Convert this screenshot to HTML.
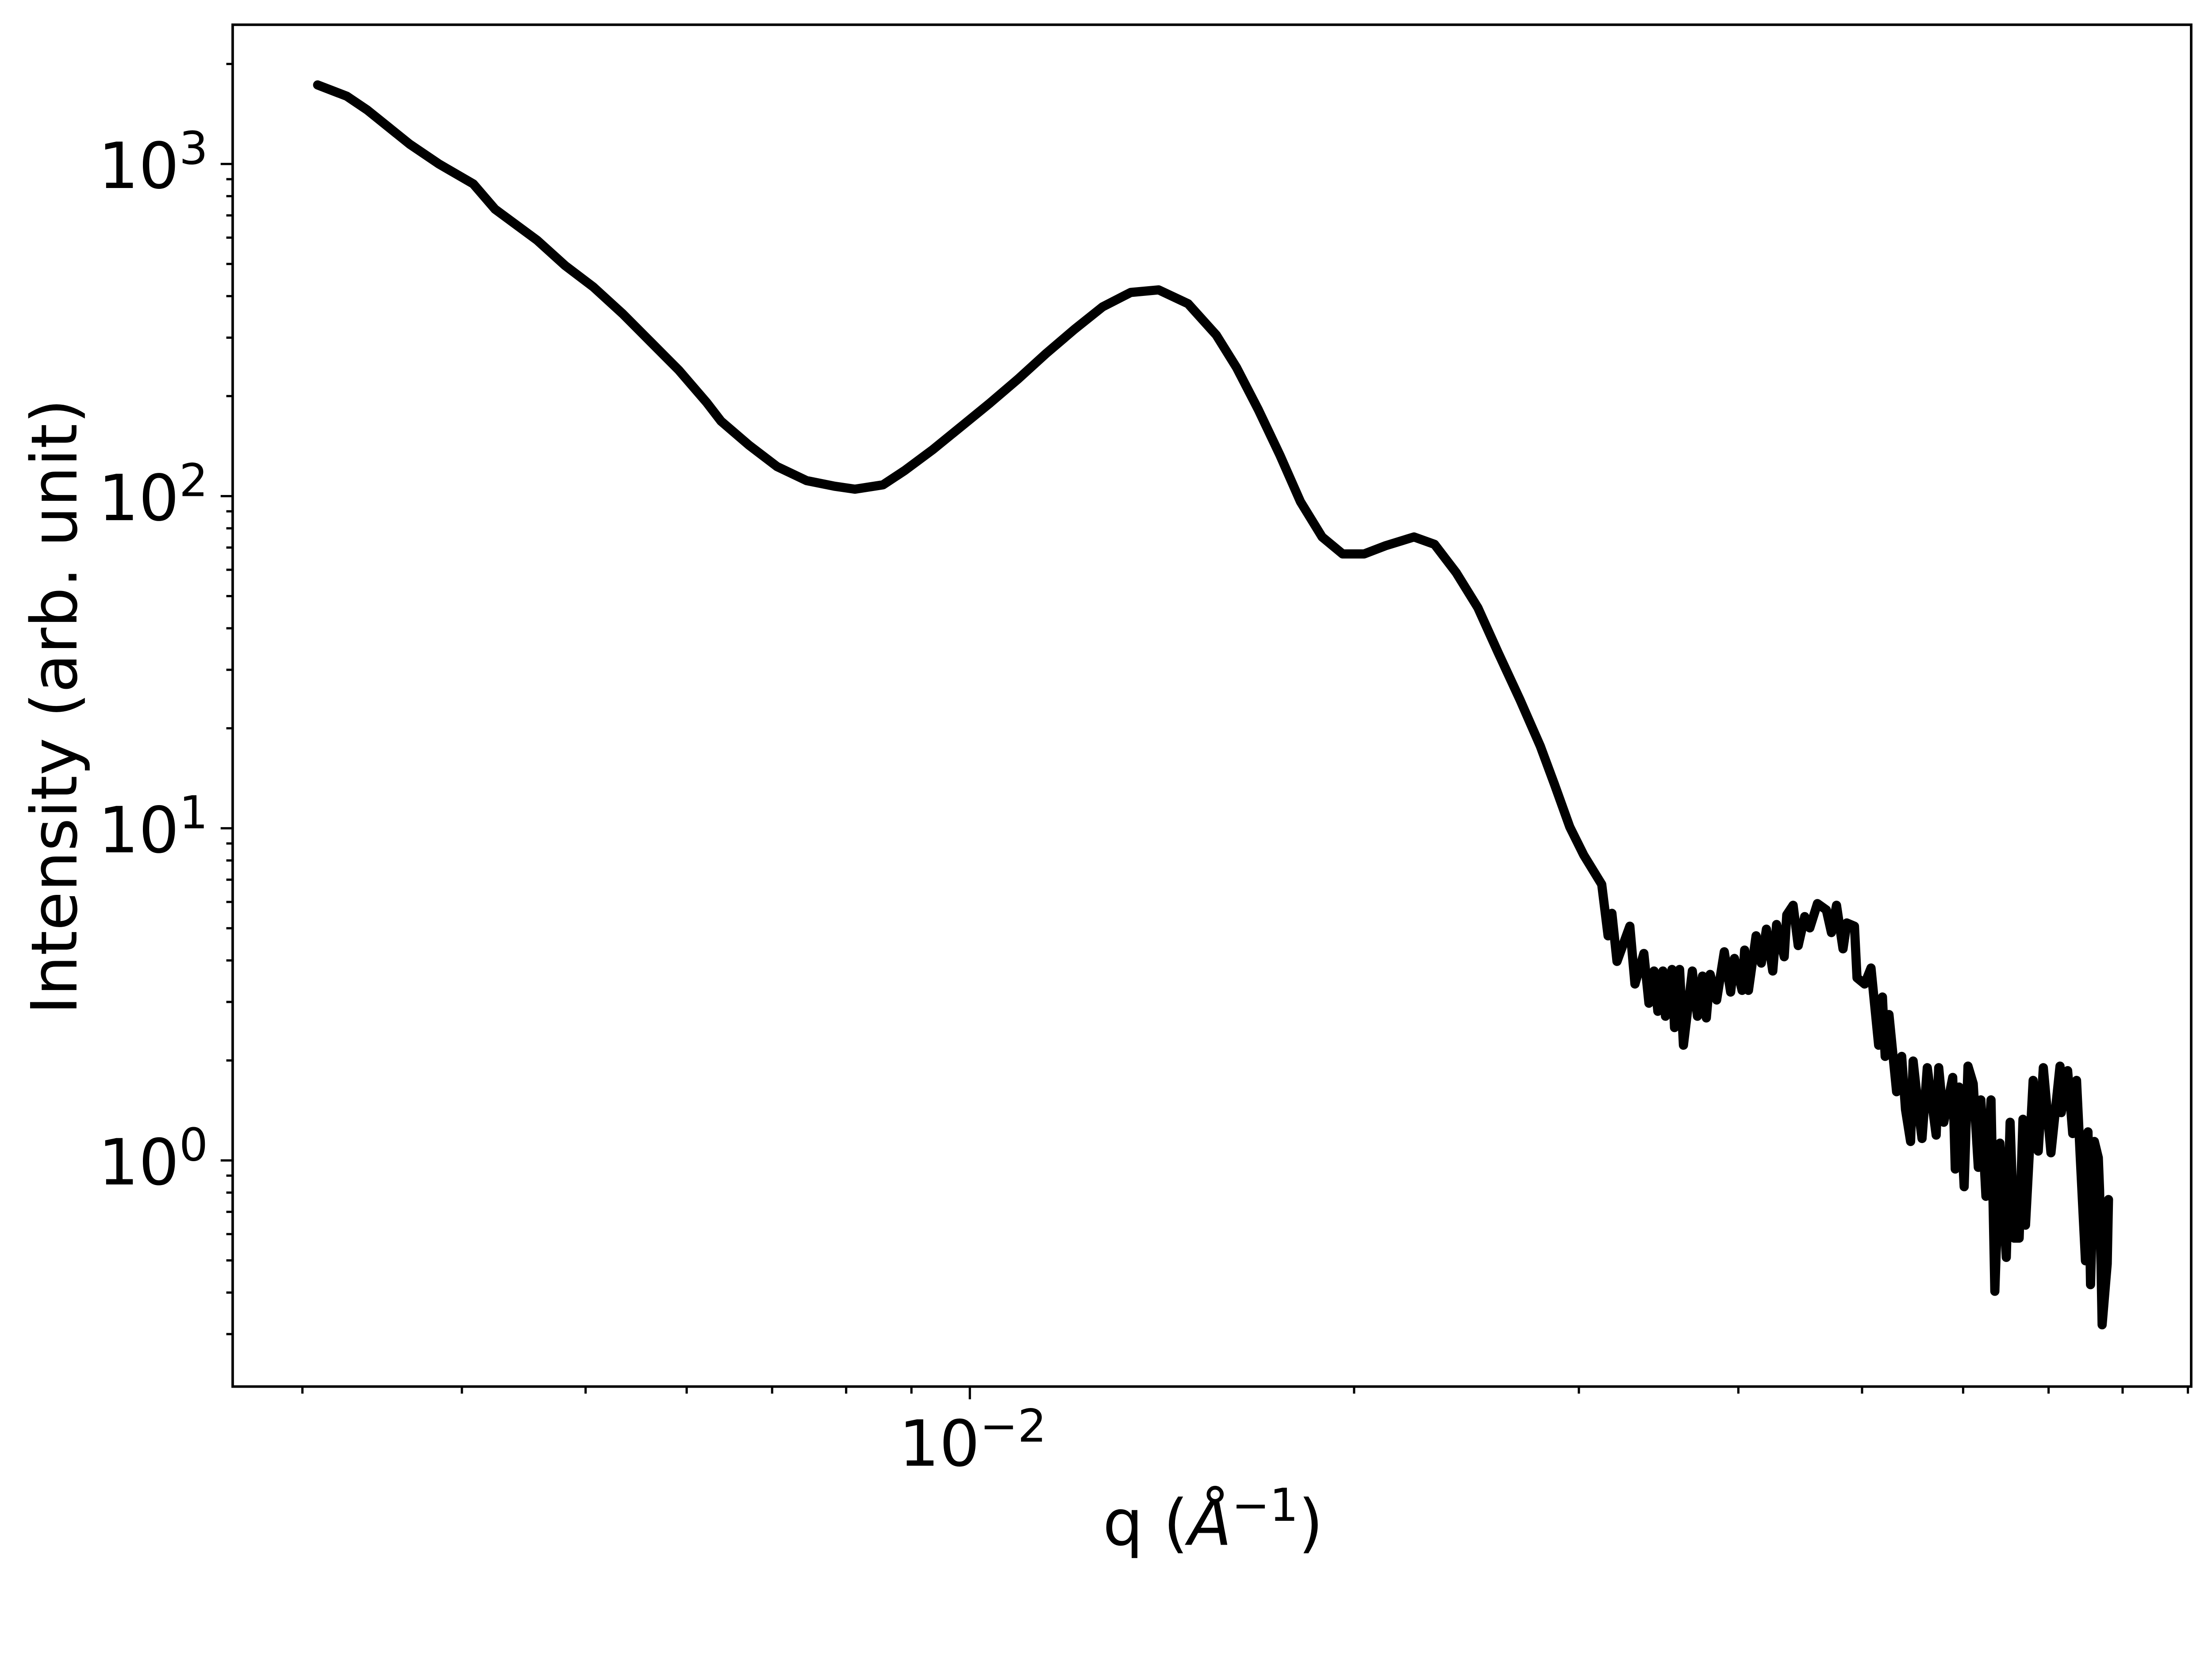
<!DOCTYPE html>
<html><head><meta charset="utf-8"><style>
html,body{margin:0;padding:0;background:#fff;overflow:hidden;width:5260px;height:3764px;}
svg{display:block;font-family:"DejaVu Sans","Liberation Sans",sans-serif;}
</style></head><body>
<svg id="chart" width="5260" height="3764" viewBox="0 0 1646 1178" xmlns="http://www.w3.org/2000/svg">
<rect x="0" y="0" width="1646" height="1178" fill="#fff"/>
<g id="ticks"></g>
<path id="curve" fill="none" stroke="#000" stroke-width="6.5" stroke-linejoin="round" stroke-linecap="round"/>
<rect x="164.5" y="17.5" width="1385.5" height="963.5" fill="none" stroke="#000" stroke-width="1.8"/>
<text x="688" y="1037" font-size="45" text-anchor="middle">10<tspan font-size="32" dy="-17">−2</tspan></text>
<text x="858" y="1093" font-size="45" text-anchor="middle">q (<tspan font-style="italic">Å</tspan><tspan font-size="32" dy="-17">−1</tspan><tspan dy="17">)</tspan></text>
<text transform="translate(54,500) rotate(-90)" font-size="45" text-anchor="middle">Intensity (arb. unit)</text>
<g id="ylabels"></g>
</svg>
<script>
const logQ=[-2.511,-2.488,-2.472,-2.439,-2.416,-2.389,-2.372,-2.339,-2.317,-2.295,-2.272,-2.250,-2.228,-2.206,-2.195,-2.173,-2.151,-2.128,-2.106,-2.090,-2.068,-2.051,-2.029,-2.007,-1.984,-1.962,-1.940,-1.918,-1.896,-1.874,-1.852,-1.829,-1.807,-1.791,-1.774,-1.757,-1.741,-1.724,-1.708,-1.691,-1.674,-1.652,-1.636,-1.619,-1.602,-1.586,-1.569,-1.553,-1.542,-1.530,-1.519,
-1.505,-1.500,-1.497,-1.493,-1.483,-1.479,-1.472,-1.468,-1.464,-1.461,-1.457,-1.455,-1.450,-1.448,-1.444,-1.441,-1.434,-1.430,-1.426,-1.423,-1.420,-1.415,-1.409,-1.404,-1.401,-1.395,-1.393,-1.390,-1.384,-1.380,-1.376,-1.371,-1.368,-1.362,-1.360,-1.355,-1.351,-1.346,-1.342,-1.336,-1.329,-1.325,-1.321,-1.316,-1.313,-1.307,-1.305,-1.299,-1.294,-1.288,-1.285,-1.283,-1.280,-1.274,-1.270,-1.267,-1.263,-1.261,-1.256,-1.254,-1.250,-1.243,-1.241,-1.237,-1.230,-1.228,-1.225,-1.221,-1.218,-1.214,-1.210,-1.208,-1.204,-1.200,-1.197,-1.193,-1.188,-1.185,-1.182,-1.178,-1.175,-1.173,-1.167,-1.163,-1.159,-1.153,-1.146,-1.145,-1.140,-1.136,-1.133,-1.130,-1.126,-1.124,-1.122,-1.119,-1.116,-1.115,-1.113,-1.109,-1.108];
const logI=[3.238,3.204,3.162,3.060,3.000,2.940,2.864,2.770,2.694,2.630,2.549,2.464,2.379,2.281,2.226,2.153,2.089,2.047,2.030,2.021,2.034,2.077,2.140,2.209,2.281,2.353,2.430,2.502,2.570,2.613,2.621,2.579,2.485,2.387,2.260,2.123,1.983,1.877,1.826,1.826,1.851,1.877,1.855,1.770,1.664,1.528,1.387,1.247,1.132,1.004,0.919,
0.831,0.676,0.744,0.599,0.705,0.531,0.623,0.473,0.570,0.449,0.570,0.434,0.575,0.400,0.575,0.347,0.570,0.434,0.555,0.429,0.560,0.483,0.628,0.507,0.608,0.512,0.633,0.512,0.676,0.594,0.696,0.570,0.710,0.613,0.739,0.768,0.647,0.734,0.700,0.773,0.754,0.686,0.768,0.637,0.715,0.705,0.550,0.531,0.579,0.347,0.492,0.313,0.439,0.207,0.313,0.153,0.057,0.299,0.124,0.066,0.279,0.076,0.279,0.115,0.250,-0.026,0.221,-0.079,0.284,0.231,-0.021,0.182,-0.108,0.182,-0.394,0.052,-0.292,0.115,-0.234,-0.234,0.124,-0.195,0.241,0.028,0.279,0.023,0.284,0.144,0.270,0.081,0.241,0.003,-0.302,0.086,-0.374,0.057,0.008,-0.089,-0.495,-0.311,-0.118];
const yTickExps=[0,1,2,3];
const xTickExps=[-2];
const X=lq=>686+(lq+2)*903;
const Y=li=>821-li*235;
let d='';
for(let i=0;i<logQ.length;i++){d+=(i?'L':'M')+X(logQ[i]).toFixed(1)+','+Y(logI[i]).toFixed(1);}
document.getElementById('curve').setAttribute('d',d);
const tg=document.getElementById('ticks');
function line(x1,y1,x2,y2,nm){const l=document.createElementNS('http://www.w3.org/2000/svg','line');
l.setAttribute('x1',x1);l.setAttribute('y1',y1);l.setAttribute('x2',x2);l.setAttribute('y2',y2);
l.setAttribute('stroke','#000');l.setAttribute('stroke-width','1.6');


tg.appendChild(l);}
for(let e=-1;e<=3;e++){for(let m=1;m<10;m++){const li=e+Math.log10(m);const y=Y(li);if(y<17||y>981)continue;
if(m===1)line(165,y,156,y,'y-major-tick');else line(165,y,160,y,'y-minor-tick');}}
for(let e=-3;e<=-2;e++){for(let m=1;m<10;m++){const lq=e+Math.log10(m);const x=X(lq);if(x<165||x>1550)continue;
if(m===1)line(x,981,x,990,'x-major-tick');else line(x,981,x,986,'x-minor-tick');}}
const yl=document.getElementById('ylabels');
yTickExps.forEach(e=>{const t=document.createElementNS('http://www.w3.org/2000/svg','text');
t.setAttribute('x',147);t.setAttribute('y',Y(e)+17);t.setAttribute('font-size','45');t.setAttribute('text-anchor','end');


t.innerHTML='10<tspan font-size="32" dy="-17">'+e+'</tspan>';yl.appendChild(t);});
</script>
</body></html>
